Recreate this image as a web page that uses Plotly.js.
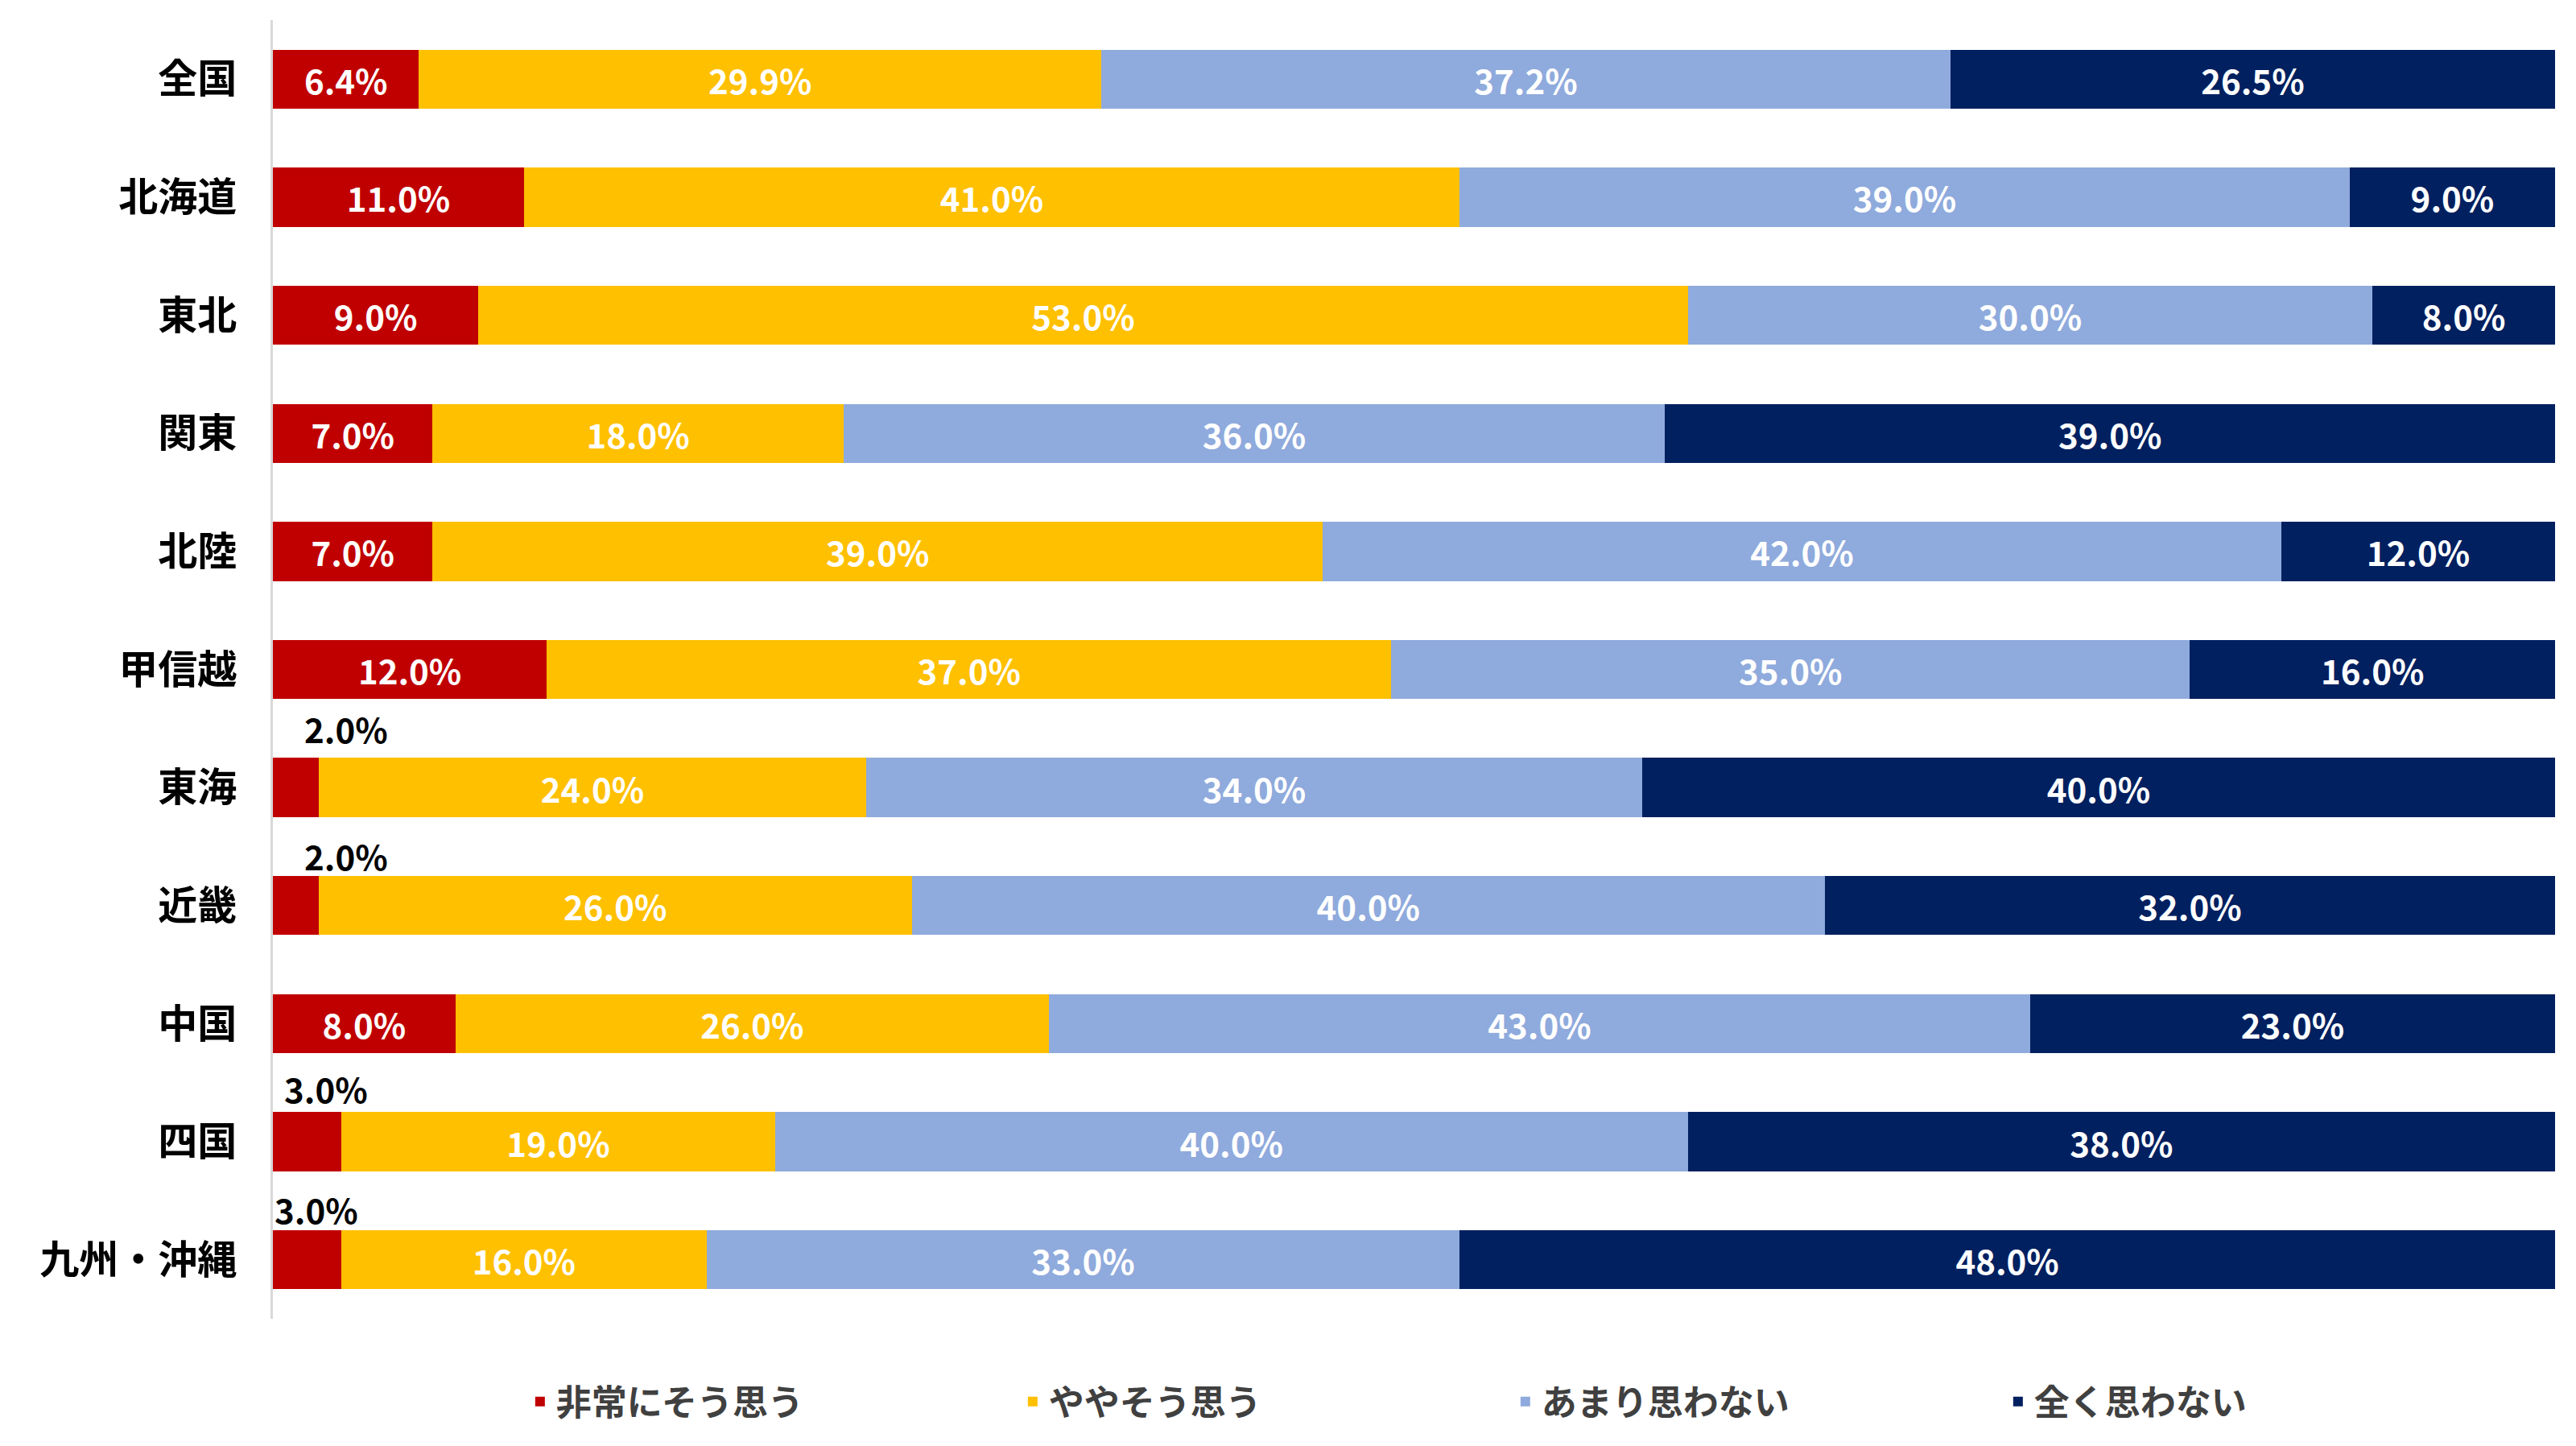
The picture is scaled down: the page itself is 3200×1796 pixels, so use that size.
<!DOCTYPE html>
<html>
<head>
<meta charset="utf-8">
<script src="https://cdn.plot.ly/plotly-3.0.1.min.js"></script>
<style>html,body{margin:0;padding:0;background:#fff;}#chart{width:3200px;height:1796px;}</style>
</head>
<body>
<div id="chart"></div>
<script>
// ---- data ----
const regions = ["全国", "北海道", "東北", "関東", "北陸", "甲信越", "東海", "近畿", "中国", "四国", "九州・沖縄"];
const seriesNames = ["非常にそう思う", "ややそう思う", "あまり思わない", "全く思わない"];
const strongYes = [6.4, 11.0, 9.0, 7.0, 7.0, 12.0, 2.0, 2.0, 8.0, 3.0, 3.0];
const someYes   = [29.9, 41.0, 53.0, 18.0, 39.0, 37.0, 24.0, 26.0, 26.0, 19.0, 16.0];
const notMuch   = [37.2, 39.0, 30.0, 36.0, 42.0, 35.0, 34.0, 40.0, 43.0, 40.0, 33.0];
const notAtAll  = [26.5, 9.0, 8.0, 39.0, 12.0, 16.0, 40.0, 32.0, 23.0, 38.0, 48.0];

// ---- styles ----
const colors = ["#C00000", "#FFC000", "#8FAADC", "#002060"];
const FONT = "'Noto Sans CJK JP', 'Noto Sans', sans-serif";
const smallThreshold = 5;            // values below this get a label above the bar
const smallLabelShift = {"東海": 37, "近畿": 37, "四国": 12, "九州・沖縄": 0};
const smallLabelLift = {"東海": 74, "近畿": 62, "四国": 67, "九州・沖縄": 63};

const allSeries = [strongYes, someYes, notMuch, notAtAll];
const traces = allSeries.map((vals, i) => ({
  type: "bar",
  orientation: "h",
  name: seriesNames[i],
  y: regions,
  x: vals,
  marker: {color: colors[i], line: {width: 0}},
  text: vals.map(v => v < smallThreshold ? "" : v.toFixed(1) + "%"),
  textposition: "inside",
  insidetextanchor: "middle",
  constraintext: "none",
  textfont: {family: FONT, size: 42, color: "#ffffff", weight: "bold"},
  hoverinfo: "x+y+name",
  cliponaxis: false
}));

const annotations = [];
strongYes.forEach((v, i) => {
  if (v < smallThreshold) {
    annotations.push({
      x: 0, y: regions[i], xref: "x", yref: "y",
      text: v.toFixed(1) + "%",
      showarrow: false,
      xanchor: "left", yanchor: "middle",
      xshift: smallLabelShift[regions[i]] || 0,
      yshift: smallLabelLift[regions[i]] || 66,
      font: {family: FONT, size: 42, color: "#000000", weight: "bold"}
    });
  }
});

const layout = {
  width: 3200, height: 1796,
  barmode: "stack",
  bargap: 0.5,
  paper_bgcolor: "#ffffff",
  plot_bgcolor: "#ffffff",
  margin: {l: 339, r: 26, t: 25, b: 158, pad: 0, autoexpand: false},
  font: {family: FONT, color: "#000000"},
  xaxis: {
    range: [0, 100], visible: false, fixedrange: true
  },
  yaxis: {
    type: "category",
    range: [regions.length - 0.5, -0.5],
    showline: true, linecolor: "#D9D9D9", linewidth: 3,
    showgrid: false, zeroline: false,
    ticks: "", ticklabelstandoff: 32,
    tickfont: {family: FONT, size: 49, color: "#000000", weight: "bold"}
  },
  showlegend: true,
  legend: {
    orientation: "h",
    xref: "paper", x: 0.110, xanchor: "left",
    yref: "container", y: 0.0306, yanchor: "middle",
    entrywidth: 567,
    font: {family: FONT, size: 44, color: "#404040", weight: "bold"},
    traceorder: "normal",
    itemclick: false
  },
  annotations: annotations
};

Plotly.newPlot("chart", traces, layout, {displayModeBar: false, staticPlot: true});
</script>
</body>
</html>
